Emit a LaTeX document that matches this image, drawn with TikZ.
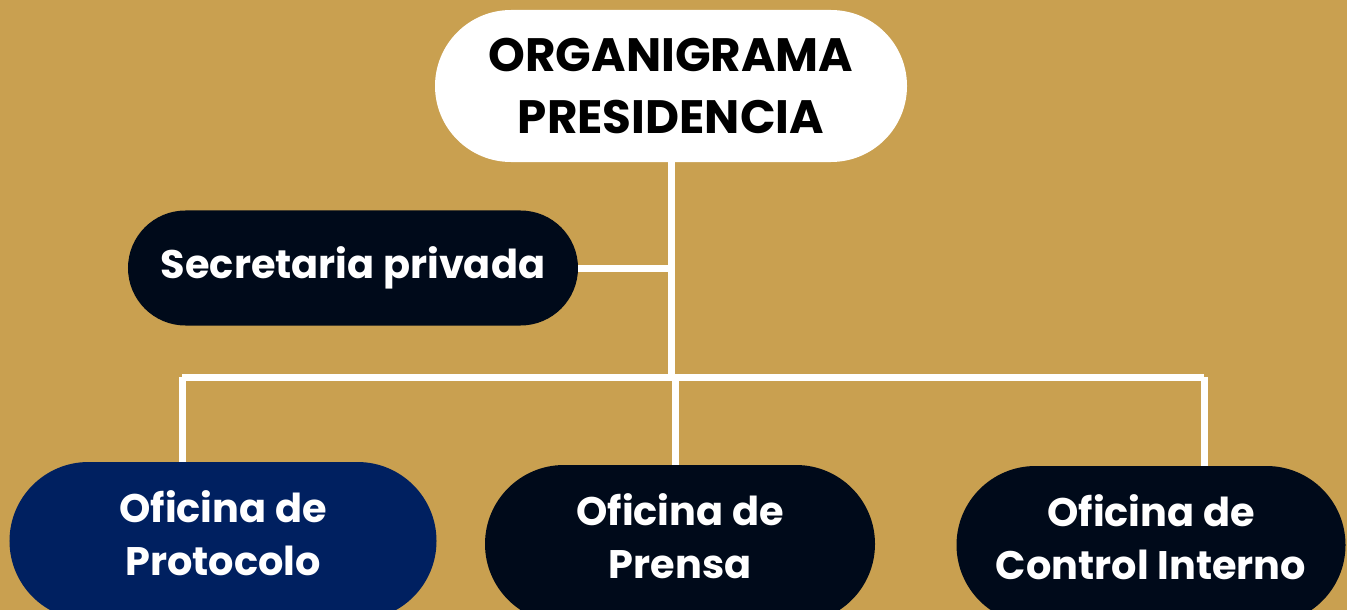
\documentclass[tikz,border=0pt]{standalone}
\usepackage{fontspec}
\setmainfont{Poppins}
\usetikzlibrary{shapes.misc}
\definecolor{fondo}{RGB}{201,160,80}
\definecolor{azul}{RGB}{0,32,96}
\definecolor{noche}{RGB}{0,10,26}

\begin{document}
\begin{tikzpicture}[
        x=1bp, y=-1bp,
        every node/.style={rounded rectangle,inner sep=0pt,align=center,font=\bfseries},
        cabeza/.style={fill=white,text=black,minimum width=472bp,minimum height=152bp,
            font=\bfseries\fontsize{47}{63}\selectfont},
        oficina/.style={fill=noche,text=white,minimum height=158bp,text depth=16bp,
            font=\bfseries\fontsize{40}{53}\selectfont},
        enlace/.style={draw=white,line width=7bp},
    ]
    \useasboundingbox[fill=fondo] (0,0) rectangle (1347,610);
    \node[cabeza] (pres) at (671,86) {ORGANIGRAMA\\PRESIDENCIA};
    \node[oficina,minimum width=450bp,minimum height=115bp,text depth=] (secr) at (353,268) {Secretaria privada};
    \node[oficina,fill=azul,minimum width=427bp] (prot) at (223,541) {Oficina de\\Protocolo};
    \node[oficina,minimum width=390bp] (pren) at (680,544) {Oficina de\\Prensa};
    \node[oficina,minimum width=389bp] (ctrl) at (1151,545) {Oficina de\\Control Interno};
    % barra horizontal
    \coordinate (bus) at (671,377);
    \coordinate (b1) at (182,377);
    \coordinate (b2) at (675,377);
    \coordinate (b3) at (1204,377);
    \draw[enlace] (pres.south) -- (bus);
    \draw[enlace] (secr.east) -- (secr.east -| pres.south);
    \draw[enlace] (b1) -- (b3);
    \draw[enlace] (b1) -- (b1 |- prot.north);
    \draw[enlace] (b2) -- (b2 |- pren.north);
    \draw[enlace] (b3) -- (b3 |- ctrl.north);
\end{tikzpicture}
\end{document}
